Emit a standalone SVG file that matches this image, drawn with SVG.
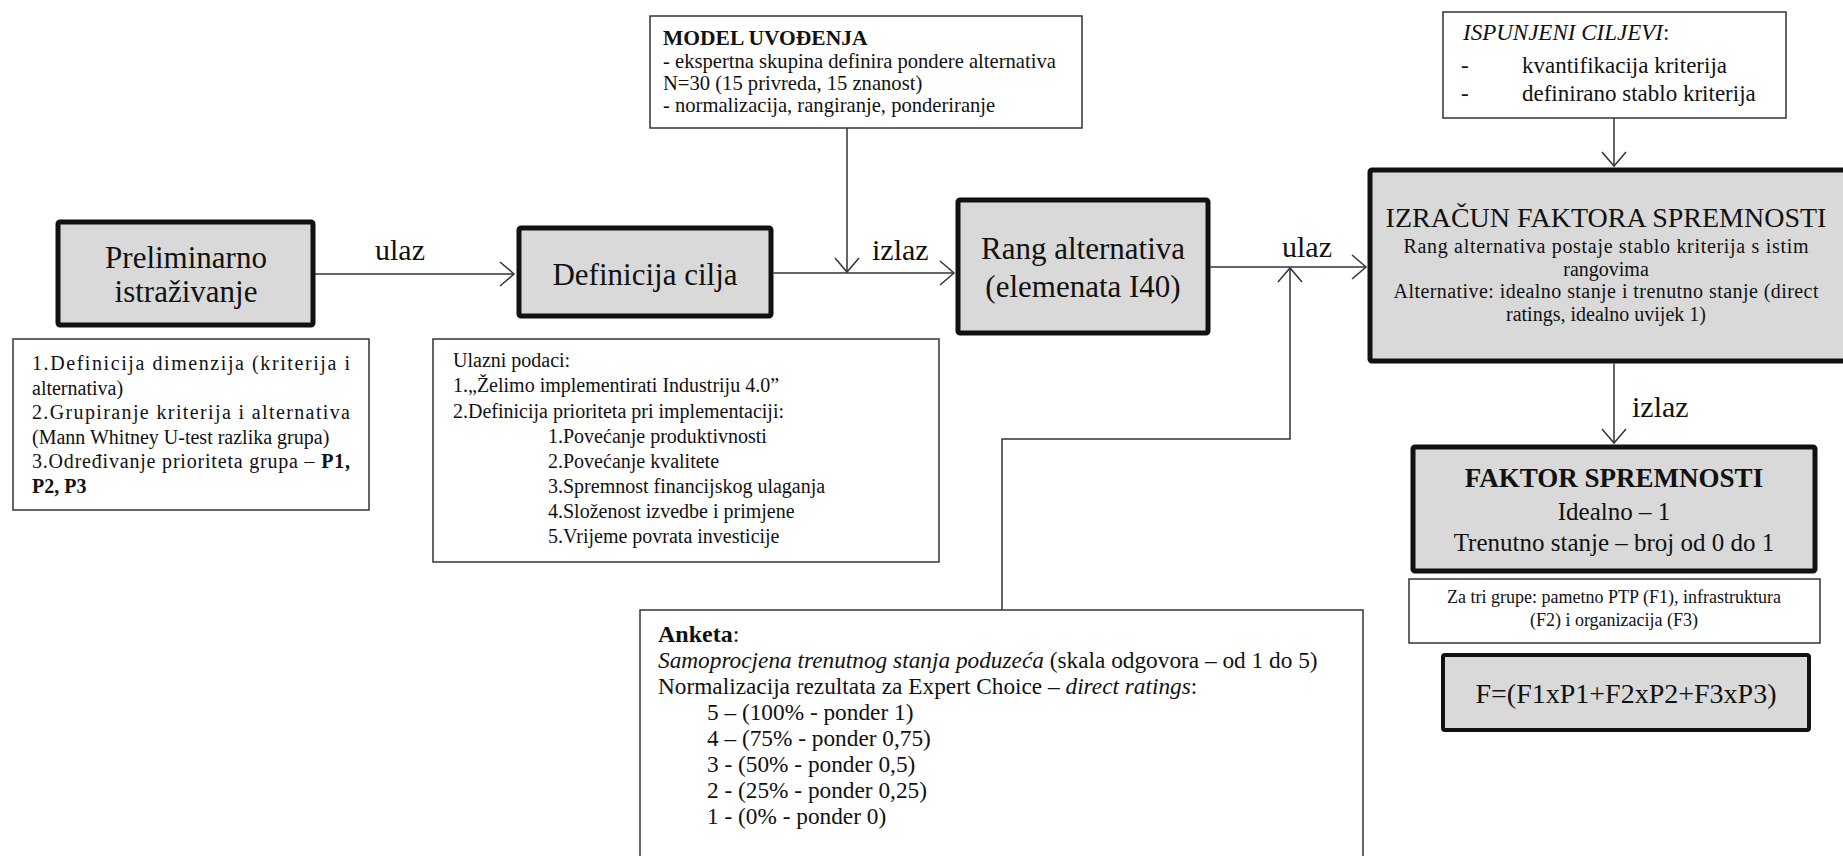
<svg xmlns="http://www.w3.org/2000/svg" width="1843" height="856" viewBox="0 0 1843 856" xml:space="preserve">
<style>
.t{font-family:"Liberation Serif","Times New Roman",serif;fill:#111;}
.thick{fill:#d9d9d9;stroke:#111;stroke-width:5;}
.thin{fill:#fff;stroke:#333;stroke-width:1.5;}
.conn{fill:none;stroke:#333;stroke-width:1.5;}
.big{font-size:31px;}
.lbl{font-size:30px;}
.b20{font-size:20px;}
.m21{font-size:20.6px;}
.iz{font-size:20px;}
.an{font-size:23.3px;}
.mid{text-anchor:middle;}
</style>
<defs>
<marker id="arr" markerUnits="userSpaceOnUse" markerWidth="18" markerHeight="30" viewBox="-16 -15 18 30" refX="0" refY="0" orient="auto"><path d="M-14,-12 L0,0 L-14,12" fill="none" stroke="#333" stroke-width="1.5"/></marker>
</defs>
<rect width="1843" height="856" fill="#fff"/>

<g id="connectors">
<path class="conn" d="M315,274 H514" marker-end="url(#arr)"/>
<path class="conn" d="M773.5,273 H954" marker-end="url(#arr)"/>
<path class="conn" d="M847,128 V272" marker-end="url(#arr)"/>
<path class="conn" d="M1210.5,267 H1366" marker-end="url(#arr)"/>
<path class="conn" d="M1002,610 V439 H1290 V268" marker-end="url(#arr)"/>
<path class="conn" d="M1614,118 V166" marker-end="url(#arr)"/>
<path class="conn" d="M1614,363.5 V443" marker-end="url(#arr)"/>
<text class="t lbl" x="375" y="260">ulaz</text>
<text class="t lbl" x="872" y="260">izlaz</text>
<text class="t lbl" x="1282" y="257">ulaz</text>
<text class="t lbl" x="1632" y="417">izlaz</text>
</g>

<g id="preliminarno">
<rect class="thick" x="58" y="222" width="255" height="103" rx="2"/>
<text class="t big mid" x="186" y="268">Preliminarno</text>
<text class="t big mid" x="186" y="302">istraživanje</text>
</g>

<g id="prelim-note">
<rect class="thin" x="13" y="339" width="356" height="171"/>
<text class="t b20" x="32" y="370" textLength="318">1.Definicija dimenzija (kriterija i</text>
<text class="t b20" x="32" y="395">alternativa)</text>
<text class="t b20" x="32" y="419" textLength="318">2.Grupiranje kriterija i alternativa</text>
<text class="t b20" x="32" y="444">(Mann Whitney U-test razlika  grupa)</text>
<text class="t b20" x="32" y="468" textLength="318">3.Određivanje prioriteta grupa – <tspan font-weight="bold">P1,</tspan></text>
<text class="t b20" x="32" y="493" font-weight="bold">P2, P3</text>
</g>

<g id="definicija">
<rect class="thick" x="519" y="228" width="252" height="88" rx="2"/>
<text class="t big mid" x="645" y="285">Definicija cilja</text>
</g>

<g id="ulazni-podaci">
<rect class="thin" x="433" y="339" width="506" height="223"/>
<text class="t b20" x="453" y="367">Ulazni  podaci:</text>
<text class="t b20" x="453" y="392">1.„Želimo  implementirati  Industriju  4.0”</text>
<text class="t b20" x="453" y="418">2.Definicija  prioriteta pri implementaciji:</text>
<text class="t b20" x="548" y="443">1.Povećanje produktivnosti</text>
<text class="t b20" x="548" y="468">2.Povećanje kvalitete</text>
<text class="t b20" x="548" y="493">3.Spremnost financijskog  ulaganja</text>
<text class="t b20" x="548" y="518">4.Složenost  izvedbe i primjene</text>
<text class="t b20" x="548" y="543">5.Vrijeme  povrata investicije</text>
</g>

<g id="model-uvodenja">
<rect class="thin" x="650" y="16" width="432" height="112"/>
<text class="t" x="663" y="45" font-size="21.5" font-weight="bold">MODEL UVOĐENJA</text>
<text class="t m21" x="663" y="68">- ekspertna skupina definira  pondere alternativa</text>
<text class="t m21" x="663" y="90">N=30 (15 privreda, 15 znanost)</text>
<text class="t m21" x="663" y="112">- normalizacija,  rangiranje,  ponderiranje</text>
</g>

<g id="rang">
<rect class="thick" x="958" y="200" width="250" height="133" rx="2"/>
<text class="t big mid" x="1083" y="259">Rang alternativa</text>
<text class="t big mid" x="1083" y="297">(elemenata I40)</text>
</g>

<g id="ispunjeni">
<rect class="thin" x="1443" y="12" width="343" height="106"/>
<text class="t" x="1463" y="40" font-size="23" font-style="italic">ISPUNJENI CILJEVI<tspan font-style="normal">:</tspan></text>
<text class="t" x="1461" y="73" font-size="23">-</text>
<text class="t" x="1522" y="73" font-size="23">kvantifikacija kriterija</text>
<text class="t" x="1461" y="101" font-size="23">-</text>
<text class="t" x="1522" y="101" font-size="23">definirano stablo kriterija</text>
</g>

<g id="izracun">
<rect class="thick" x="1370" y="170" width="490" height="191" rx="2"/>
<text class="t mid" x="1606" y="227" font-size="28">IZRAČUN  FAKTORA SPREMNOSTI</text>
<text class="t mid iz" x="1606" y="253" textLength="405">Rang alternativa  postaje stablo kriterija  s istim</text>
<text class="t mid iz" x="1606" y="275.5">rangovima</text>
<text class="t mid iz" x="1606" y="298" textLength="425">Alternative:  idealno  stanje i trenutno  stanje (direct</text>
<text class="t mid iz" x="1606" y="320.5">ratings, idealno  uvijek  1)</text>
</g>

<g id="faktor">
<rect class="thick" x="1413" y="447" width="402" height="124" rx="2"/>
<text class="t mid" x="1614" y="487" font-size="27" font-weight="bold">FAKTOR SPREMNOSTI</text>
<text class="t mid" x="1614" y="520" font-size="25">Idealno – 1</text>
<text class="t mid" x="1614" y="551" font-size="25">Trenutno  stanje – broj od 0 do 1</text>
</g>

<g id="za-tri-grupe">
<rect class="thin" x="1409" y="579" width="411" height="64"/>
<text class="t mid" x="1614" y="603" font-size="18">Za tri grupe: pametno PTP (F1), infrastruktura</text>
<text class="t mid" x="1614" y="626" font-size="18">(F2)  i organizacija  (F3)</text>
</g>

<g id="formula">
<rect class="thick" x="1443" y="655" width="366" height="75" rx="2" style="stroke-width:4"/>
<text class="t mid" x="1626" y="703" font-size="28">F=(F1xP1+F2xP2+F3xP3)</text>
</g>

<g id="anketa">
<rect class="thin" x="640" y="610" width="723" height="260"/>
<text class="t" x="658" y="642" font-size="24"><tspan font-weight="bold">Anketa</tspan>:</text>
<text class="t an" x="658" y="668"><tspan font-style="italic">Samoprocjena trenutnog stanja poduzeća</tspan> (skala odgovora – od 1 do 5)</text>
<text class="t an" x="658" y="694">Normalizacija rezultata za Expert Choice – <tspan font-style="italic">direct ratings</tspan>:</text>
<text class="t an" x="707" y="720">5 – (100% - ponder 1)</text>
<text class="t an" x="707" y="746">4 – (75% - ponder 0,75)</text>
<text class="t an" x="707" y="772">3 - (50% - ponder 0,5)</text>
<text class="t an" x="707" y="798">2 - (25% - ponder 0,25)</text>
<text class="t an" x="707" y="824">1 - (0% - ponder 0)</text>
</g>
</svg>
